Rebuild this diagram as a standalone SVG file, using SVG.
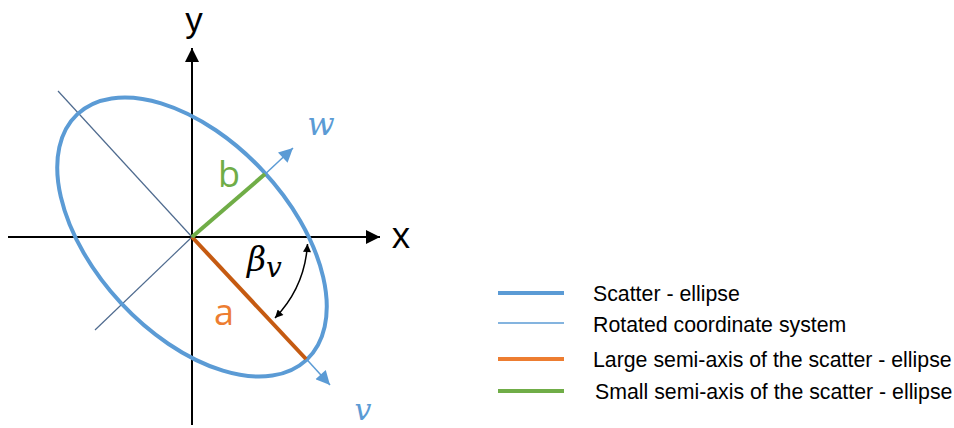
<svg xmlns="http://www.w3.org/2000/svg" width="954" height="428" viewBox="0 0 954 428">
<style>
.ax{stroke:#000;stroke-width:2;fill:none}
.thin{stroke:#4F6B8F;stroke-width:1.2;fill:none}
.blue{stroke:#5B9BD5;fill:none}
.lbl{font-family:"Open Sans","Liberation Sans",sans-serif;font-size:36px}
.math{font-family:"DejaVu Serif","Liberation Serif",serif;font-style:italic}
.leg{font-family:"Liberation Sans",Arial,sans-serif;font-size:21.3px;fill:#000}
</style>
<defs>
<marker id="ah" viewBox="0 0 10 10" refX="10" refY="5" markerWidth="24" markerHeight="14" markerUnits="userSpaceOnUse" orient="auto"><path d="M0,0 L10,5 L0,10 z" fill="#000"/></marker>
<marker id="bh" viewBox="0 0 10 10" refX="10" refY="5" markerWidth="20" markerHeight="14" markerUnits="userSpaceOnUse" orient="auto"><path d="M0,0 L10,5 L0,10 z" fill="#5B9BD5"/></marker>
<marker id="sh" viewBox="0 0 10 10" refX="10" refY="5" markerWidth="12" markerHeight="8" markerUnits="userSpaceOnUse" orient="auto-start-reverse"><path d="M0,0 L10,5 L0,10 z" fill="#000"/></marker>
</defs>
<g id="connectors">
<line class="ax" x1="8" y1="237" x2="380" y2="237" marker-end="url(#ah)"/>
<line class="ax" x1="192" y1="425" x2="192" y2="48" marker-end="url(#ah)"/>
<line class="thin" x1="58" y1="91" x2="192" y2="237"/>
<line class="thin" x1="95" y1="330" x2="192" y2="237"/>
<line class="blue" stroke-width="1.5" x1="300" y1="352" x2="330" y2="385" marker-end="url(#bh)"/>
<line class="blue" stroke-width="1.5" x1="262" y1="177" x2="293" y2="148" marker-end="url(#bh)"/>
<path d="M307.5 244 A117 117 0 0 1 275 318" fill="none" stroke="#000" stroke-width="1.5" marker-start="url(#sh)" marker-end="url(#sh)"/>
</g>
<g id="ellipse">
<ellipse cx="192" cy="237" rx="168" ry="97" transform="rotate(47 192 237)" class="blue" stroke-width="4"/>
</g>
<g id="semi-axes">
<line x1="192" y1="237" x2="306" y2="359" stroke="#C55A11" stroke-width="4"/>
<line x1="192" y1="237" x2="265" y2="174" stroke="#70AD47" stroke-width="4"/>
</g>
<g id="labels">
<text x="194" y="32" text-anchor="middle" font-family="Liberation Sans, Arial, sans-serif" font-size="35">y</text>
<text class="lbl" x="401" y="248" text-anchor="middle">x</text>
<text class="lbl" x="229" y="187" text-anchor="middle" fill="#70AD47">b</text>
<text class="lbl" x="224" y="325" text-anchor="middle" fill="#ED7D31">a</text>
<text class="math" x="321" y="135" font-size="32" fill="#5B9BD5" text-anchor="middle">w</text>
<text class="math" x="363" y="420" font-size="30" fill="#5B9BD5" text-anchor="middle">v</text>
<text class="math" x="247" y="271" font-size="33" fill="#000">β<tspan font-size="28" dy="6">v</tspan></text>
</g>
<g id="legend">
<line x1="498" y1="293" x2="564" y2="293" stroke="#5B9BD5" stroke-width="4"/>
<line x1="498" y1="323" x2="564" y2="323" stroke="#5B9BD5" stroke-width="1.5"/>
<line x1="498" y1="359" x2="564" y2="359" stroke="#ED7D31" stroke-width="4"/>
<line x1="498" y1="391" x2="564" y2="391" stroke="#70AD47" stroke-width="4"/>
<text class="leg" x="593" y="301">Scatter - ellipse</text>
<text class="leg" x="593" y="332">Rotated coordinate system</text>
<text class="leg" x="593" y="367">Large semi-axis of the scatter - ellipse</text>
<text class="leg" x="595" y="399">Small semi-axis of the scatter - ellipse</text>
</g>
</svg>
